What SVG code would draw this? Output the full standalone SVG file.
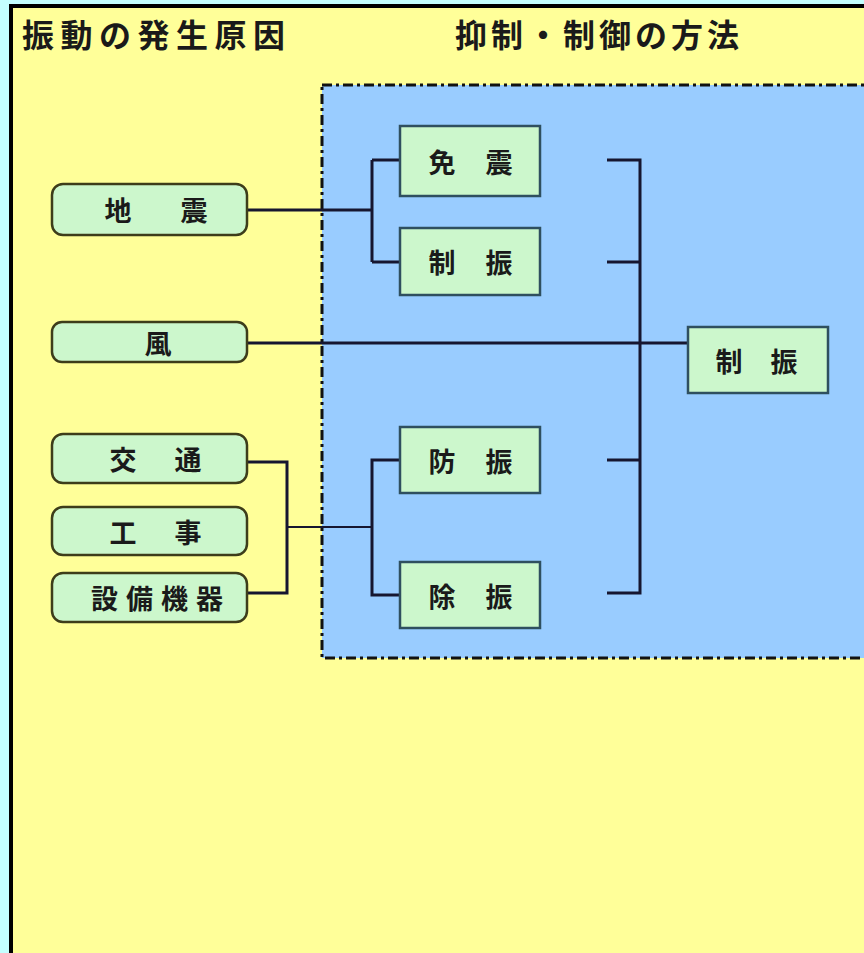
<svg xmlns="http://www.w3.org/2000/svg" width="864" height="953" viewBox="0 0 864 953">
<style>
.t{font-family:"Noto Sans CJK JP","Noto Sans CJK SC",sans-serif;font-weight:bold;fill:#1a1a1a;dominant-baseline:central}
.title{font-size:32px}
.lbl{font-size:27px}
.rn{fill:#ccf7cc;stroke:#3d3d1a;stroke-width:2.5}
.sn{fill:#ccf7cc;stroke:#2f4f5f;stroke-width:2.5}
.c{fill:none;stroke:#161630;stroke-width:3}
.c2{fill:none;stroke:#161630;stroke-width:2}
</style>
<rect x="0" y="0" width="864" height="953" fill="#c4ffff"/>
<rect x="9" y="4" width="870" height="960" fill="#000"/>
<rect x="13" y="8" width="870" height="960" fill="#ffff99"/>
<g id="region">
<rect x="322" y="85" width="560" height="573" fill="#99ccff" stroke="#111" stroke-width="3" stroke-dasharray="10 4 3 4"/>
</g>
<g id="titles">
<text class="t title" x="22" y="33" letter-spacing="6.5">振動の発生原因</text>
<text class="t title" x="455" y="33" letter-spacing="4">抑制・制御の方法</text>
</g>
<g id="connectors">
<path class="c" d="M247 210 H372 M372 160 V262 M372 160 H400 M372 262 H400"/>
<path class="c" d="M247 343 H688"/>
<path class="c" d="M607 160 H640 V593 H607 M607 262 H640 M607 460 H640"/>
<path class="c" d="M247 462 H287 V593 H247"/>
<path class="c2" d="M287 527 H372"/>
<path class="c" d="M400 460 H372 V595 H400"/>
</g>
<g id="n-jishin"><rect class="rn" x="52" y="184" width="195" height="51" rx="11"/><text class="t lbl" x="104.5" y="209" letter-spacing="11">地　震</text></g>
<g id="n-kaze"><rect class="rn" x="52" y="322" width="195" height="40" rx="10"/><text class="t lbl" x="144.5" y="342">風</text></g>
<g id="n-kotsu"><rect class="rn" x="52" y="434" width="195" height="49" rx="11"/><text class="t lbl" x="109.5" y="458.5" letter-spacing="5.5">交　通</text></g>
<g id="n-koji"><rect class="rn" x="52" y="507" width="195" height="48" rx="11"/><text class="t lbl" x="109.5" y="531" letter-spacing="5.5">工　事</text></g>
<g id="n-setsubi"><rect class="rn" x="52" y="573" width="195" height="49" rx="11"/><text class="t lbl" x="91" y="597.5" letter-spacing="8">設備機器</text></g>
<g id="n-menshin"><rect class="sn" x="400" y="126" width="140" height="70"/><text class="t lbl" x="428.5" y="161" letter-spacing="1.5">免　震</text></g>
<g id="n-seishin1"><rect class="sn" x="400" y="228" width="140" height="67"/><text class="t lbl" x="428.5" y="261.5" letter-spacing="1.5">制　振</text></g>
<g id="n-boshin"><rect class="sn" x="400" y="427" width="140" height="66"/><text class="t lbl" x="428.5" y="460" letter-spacing="1.5">防　振</text></g>
<g id="n-joshin"><rect class="sn" x="400" y="562" width="140" height="66"/><text class="t lbl" x="428.5" y="595" letter-spacing="1.5">除　振</text></g>
<g id="n-seishin2"><rect class="sn" x="688" y="327" width="140" height="66"/><text class="t lbl" x="715.5" y="360" letter-spacing="0.5">制　振</text></g>
</svg>
